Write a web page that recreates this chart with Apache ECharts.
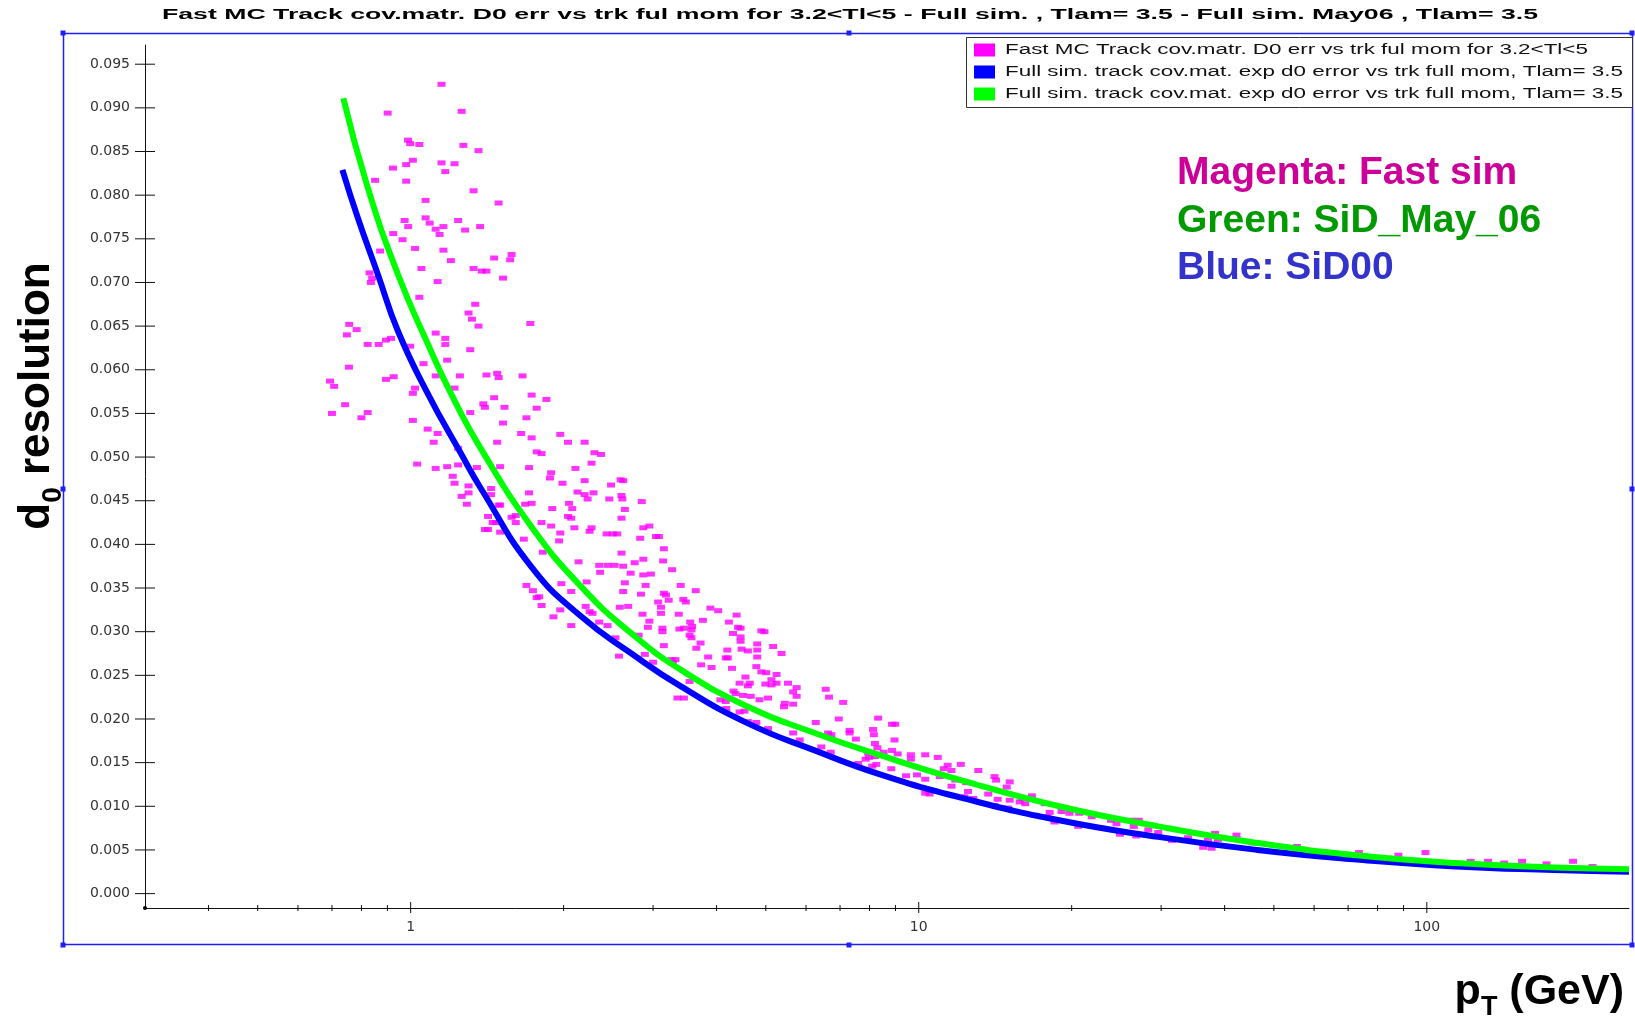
<!DOCTYPE html>
<html>
<head>
<meta charset="utf-8">
<title>d0 resolution vs pT</title>
<script src="https://cdn.jsdelivr.net/npm/echarts@6/dist/echarts.min.js"></script>
<style>
  html, body { margin: 0; padding: 0; background: #fff; }
  #chart { width: 1635px; height: 1019px; }
</style>
</head>
<body>
<div id="chart"></div>
<script>
// axis ticks
var yTicks = [0, 0.005, 0.01, 0.015, 0.02, 0.025, 0.03, 0.035, 0.04, 0.045, 0.05,
              0.055, 0.06, 0.065, 0.07, 0.075, 0.08, 0.085, 0.09, 0.095];
var xMajorTicks = [1, 10, 100];
var xMinorTicks = [0.4, 0.5, 0.6, 0.7, 0.8, 0.9, 2, 3, 4, 5, 6, 7, 8, 9,
                   20, 30, 40, 50, 60, 70, 80, 90];

var titleText = 'Fast MC Track cov.matr. D0 err vs trk ful mom for 3.2<Tl<5 - Full sim. , Tlam= 3.5 - Full sim. May06 , Tlam= 3.5';
var legendNames = [
  'Fast MC Track cov.matr. D0 err vs trk ful mom for 3.2<Tl<5',
  'Full sim. track cov.mat. exp d0 error vs trk full mom, Tlam= 3.5',
  'Full sim. track cov.mat. exp d0 error vs trk full mom, Tlam= 3.5'
];
var legendColors = ['#ff00ff', '#0000ff', '#00ff00'];

// magenta: fast sim  [pT, d0 error]
var fastSim = [
  [1.15,0.0927],[0.901,0.0894],[1.26,0.0896],[0.988,0.0863],[0.998,0.0859],[1.04,0.0858],[1.27,0.0857],[1.36,0.0851],
  [1.01,0.0840],[0.980,0.0835],[0.923,0.0831],[1.15,0.0837],[1.22,0.0836],[1.17,0.0827],[0.851,0.0817],[0.980,0.0816],
  [1.33,0.0805],[1.07,0.0794],[1.49,0.0791],[1.07,0.0774],[1.09,0.0768],[0.973,0.0771],[0.989,0.0764],[1.16,0.0764],
  [1.24,0.0771],[1.37,0.0764],[1.12,0.0761],[1.28,0.0760],[1.14,0.0755],[0.924,0.0756],[0.964,0.0749],[0.871,0.0736],
  [1.02,0.0739],[1.16,0.0737],[1.20,0.0725],[1.46,0.0728],[1.58,0.0732],[1.57,0.0726],[1.05,0.0716],[1.33,0.0716],
  [1.38,0.0713],[1.41,0.0713],[0.830,0.0711],[0.840,0.0705],[0.835,0.0700],[1.52,0.0705],[1.13,0.0701],[1.04,0.0683],
  [1.34,0.0675],[1.30,0.0665],[1.32,0.0658],[1.36,0.0650],[1.72,0.0653],[0.757,0.0652],[0.783,0.0646],[0.749,0.0640],
  [1.12,0.0642],[1.17,0.0636],[1.17,0.0629],[0.915,0.0636],[0.894,0.0634],[0.823,0.0629],[0.865,0.0629],[0.998,0.0627],
  [1.31,0.0623],[0.756,0.0603],[1.06,0.0607],[1.18,0.0611],[0.694,0.0587],[0.707,0.0581],[0.894,0.0589],[0.926,0.0592],
  [1.12,0.0593],[1.25,0.0593],[1.41,0.0594],[1.48,0.0596],[1.49,0.0591],[1.66,0.0593],[1.22,0.0579],[1.02,0.0579],
  [1.01,0.0573],[1.46,0.0568],[1.73,0.0571],[1.85,0.0566],[0.743,0.0560],[1.39,0.0561],[1.40,0.0557],[1.53,0.0557],
  [1.77,0.0556],[0.700,0.0550],[0.823,0.0551],[0.800,0.0545],[1.31,0.0551],[1.01,0.0542],[1.69,0.0545],[1.52,0.0539],
  [1.08,0.0532],[1.13,0.0527],[1.65,0.0527],[1.73,0.0522],[1.11,0.0517],[1.48,0.0517],[1.77,0.0506],[1.81,0.0504],
  [1.24,0.0510],[1.97,0.0526],
  [1.03,0.0492],[1.12,0.0487],[1.18,0.0489],[1.24,0.0491],[1.35,0.0488],[1.21,0.0478],[1.22,0.0470],[1.30,0.0459],
  [1.26,0.0455],[1.30,0.0467],[1.44,0.0464],[1.44,0.0457],[1.29,0.0446],[1.49,0.0445],[1.47,0.0425],[1.42,0.0417],
  [1.50,0.0414],
  [2.04,0.0517],[2.20,0.0517],[2.30,0.0505],[2.37,0.0503],[2.27,0.0493],[1.71,0.0488],[2.11,0.0487],[1.50,0.0489],
  [1.89,0.0482],[1.88,0.0476],[1.99,0.0470],[2.20,0.0473],[2.48,0.0468],[2.59,0.0474],[2.62,0.0473],[1.71,0.0459],
  [2.13,0.0460],[2.20,0.0457],[2.23,0.0452],[2.29,0.0459],[2.46,0.0452],[2.60,0.0456],[2.61,0.0452],[2.85,0.0449],
  [1.50,0.0445],[1.68,0.0446],[1.73,0.0447],[1.90,0.0441],[2.05,0.0447],[2.08,0.0441],[2.64,0.0440],[1.42,0.0432],
  [1.58,0.0431],[1.61,0.0433],[2.04,0.0432],[2.07,0.0430],[2.60,0.0430],[1.45,0.0425],[1.40,0.0417],[1.61,0.0425],
  [1.81,0.0425],[1.89,0.0421],[1.97,0.0413],[1.96,0.0404],[2.27,0.0419],[2.25,0.0415],[2.10,0.0419],[2.43,0.0412],
  [2.50,0.0412],[2.55,0.0412],[2.87,0.0419],[2.95,0.0421],[2.83,0.0407],[3.04,0.0409],[3.08,0.0409],[1.67,0.0406],
  [3.15,0.0395],[1.82,0.0391],[2.60,0.0390],[2.14,0.0380],[2.35,0.0376],[2.44,0.0376],[2.52,0.0376],[2.62,0.0375],
  [2.76,0.0379],[2.87,0.0383],[3.14,0.0381],[3.27,0.0371],[2.36,0.0368],[2.71,0.0367],[2.87,0.0365],[2.97,0.0366],
  [1.98,0.0355],[2.22,0.0357],[2.64,0.0356],[2.90,0.0353],[3.40,0.0353],[1.69,0.0353],[1.74,0.0347],[2.07,0.0346],
  [2.62,0.0346],[2.84,0.0343],[3.15,0.0344],[3.18,0.0342],[3.22,0.0336],[3.64,0.0347],[1.77,0.0339],[1.79,0.0340],
  [3.44,0.0337],[3.48,0.0334],[1.81,0.0330],[2.58,0.0328],[2.68,0.0329],[3.07,0.0334],[3.11,0.0328],[3.89,0.0327],
  [4.03,0.0324],[1.97,0.0325],[2.21,0.0329],[2.25,0.0323],[2.28,0.0321],[1.91,0.0317],[2.86,0.0320],[3.37,0.0320],
  [3.11,0.0321],[4.38,0.0319],[2.35,0.0311],[2.44,0.0307],[2.07,0.0307],[2.95,0.0312],[3.55,0.0311],[3.76,0.0313],
  [4.23,0.0311],[3.13,0.0304],[3.13,0.0300],[2.93,0.0305],[3.38,0.0303],[3.45,0.0304],[3.58,0.0306],[3.57,0.0302],
  [4.41,0.0305],[4.46,0.0304],[4.90,0.0301],[2.53,0.0293],[2.81,0.0296],[3.54,0.0296],[3.57,0.0293],[4.31,0.0298],
  [4.46,0.0294],[4.46,0.0289],[4.97,0.0300],[3.15,0.0284],[3.72,0.0287],[3.65,0.0281],[4.20,0.0279],[4.21,0.0270],
  [4.48,0.0280],[4.61,0.0278],[4.81,0.0286],[4.81,0.0279],[5.17,0.0283],[5.37,0.0275],[2.89,0.0274],[2.57,0.0272],
  [3.00,0.0265],[3.26,0.0268],[3.85,0.0271],[4.17,0.0270],[4.81,0.0271],[3.73,0.0262],[3.91,0.0259],[4.29,0.0258],
  [4.79,0.0260],[4.90,0.0254],[5.01,0.0253],[5.25,0.0251],[3.32,0.0268],[3.28,0.0264],[3.54,0.0243],[4.56,0.0248],
  [4.44,0.0241],[4.61,0.0238],[4.65,0.0241],[4.99,0.0240],[5.13,0.0239],[5.25,0.0241],[5.13,0.0245],[5.53,0.0241],
  [5.75,0.0236],[4.32,0.0232],[4.36,0.0229],[4.51,0.0227],[4.67,0.0226],[4.86,0.0222],[5.05,0.0224],[5.66,0.0231],
  [5.75,0.0226],[6.56,0.0234],[6.66,0.0225],[3.35,0.0224],[3.45,0.0224],[4.07,0.0222],[4.17,0.0220],[5.45,0.0218],
  [5.66,0.0217],[7.10,0.0219],[4.54,0.0209],[4.18,0.0212],[4.44,0.0208],[5.43,0.0214],[4.61,0.0197],[4.79,0.0196],
  [5.66,0.0184],[6.27,0.0196],[6.96,0.0200],[7.31,0.0187],[7.31,0.0184],[8.32,0.0201],[6.63,0.0184],[6.73,0.0182],
  [8.13,0.0188],[5.05,0.0189],[5.83,0.0176],[6.43,0.0168],[6.71,0.0162],[7.52,0.0177],[7.95,0.0161],[8.20,0.0157],
  [7.60,0.0149],
  [8.86,0.0194],[8.99,0.0194],[8.16,0.0182],[8.96,0.0176],[8.20,0.0172],[8.29,0.0167],[8.86,0.0164],[8.53,0.0162],
  [7.86,0.0154],[7.98,0.0156],[9.09,0.0160],[9.65,0.0159],[9.65,0.0154],[10.3,0.0159],[10.9,0.0156],[12.1,0.0148],
  [8.10,0.0146],[8.25,0.0148],[8.83,0.0143],[11.4,0.0147],[11.2,0.0143],[11.6,0.0141],[13.1,0.0141],[9.44,0.0135],
  [9.92,0.0136],[10.3,0.0131],[11.0,0.0134],[11.8,0.0130],[14.1,0.0134],[14.2,0.0130],[15.1,0.0128],[14.9,0.0122],
  [11.6,0.0123],[12.4,0.0127],[10.3,0.0115],[10.5,0.0114],[13.7,0.0114],[12.5,0.0117],[12.3,0.0111],[12.8,0.0109],
  [14.3,0.0108],[15.1,0.0107],[15.8,0.0105],[16.2,0.0103],[16.0,0.0109],[16.7,0.0112],[15.0,0.0098],[14.1,0.0101],
  [17.7,0.0103],[18.1,0.0093],[19.1,0.0094],[19.4,0.0098],[19.8,0.0092],[20.7,0.0092],[17.9,0.0088],[18.5,0.0082],
  [20.6,0.0077],[21.9,0.0088],[23.9,0.0084],[24.5,0.0080],[26.2,0.0084],[27.1,0.0084],[26.5,0.0077],[24.9,0.0068],
  [26.8,0.0066],[28.3,0.0073],[29.6,0.0070],[31.5,0.0061],[36.3,0.0053],[37.7,0.0052],[33.9,0.0064],[38.3,0.0069],
  [42.2,0.0067],[37.1,0.0061],[38.8,0.0062],[45.4,0.0058],[55.5,0.0054],[73.5,0.0047],[87.9,0.0044],[99.4,0.0047],
  [96.2,0.0038],[122,0.0037],[132,0.0037],[142,0.0035],[154,0.0037],[172,0.0034],[194,0.0037],[212,0.0031],
  [76.9,0.0042]
];

// blue: SiD00 full sim
var sid00 = [
  [0.734,0.0829],[0.786,0.0775],[0.861,0.0710],[0.943,0.0645],[1.08,0.0573],[1.256,0.0504],[1.375,0.0464],
  [1.73,0.0374],[2.17,0.0317],[2.72,0.0275],[3.41,0.0237],[4.61,0.0195],[6.24,0.0164],
  [8.45,0.0136],[12.1,0.0110],[18.9,0.0084],[29.6,0.0065],[46.4,0.0050],[72.7,0.0039],[114,0.0031],
  [178,0.0027],[250,0.0025]
];

// green: SiD_May_06 full sim
var sidMay06 = [
  [0.737,0.0911],[0.823,0.0809],[0.943,0.0710],[1.08,0.0630],[1.20,0.0573],[1.38,0.0508],[1.73,0.0420],
  [2.17,0.0351],[2.72,0.0298],[3.41,0.0256],[4.61,0.0214],[6.24,0.0184],[8.45,0.0158],
  [12.1,0.0130],[18.9,0.0100],[29.6,0.0077],[46.4,0.0058],[72.7,0.0044],[114,0.0035],[178,0.0030],
  [250,0.0028]
];

var xMin = 0.3, xMax = 250, yMin = -0.00165, yMax = 0.0972;

// the original plot is stretched sideways, so its texts are too
var measureCtx = document.createElement('canvas').getContext('2d');
function stretchTo(text, font, width) {
  measureCtx.font = font;
  return width / measureCtx.measureText(text).width;
}
var titleScale = stretchTo(titleText, 'bold 14px "Liberation Sans"', 1376);
var legendScale = stretchTo(legendNames[1], '14px "Liberation Sans"', 618);

function tickItem(kind) {
  return function (params, api) {
    var p, up, dn;
    if (kind === 'y') {
      p = api.coord([xMin, api.value(1)]);
      return {
        type: 'line',
        shape: { x1: p[0] - 10, y1: p[1], x2: p[0] + 10, y2: p[1] },
        style: { stroke: '#111', lineWidth: 1 }
      };
    }
    p = api.coord([api.value(0), yMin]);
    up = kind === 'major' ? 6 : 3;
    dn = kind === 'major' ? 5 : 3;
    return {
      type: 'line',
      shape: { x1: p[0], y1: p[1] - up, x2: p[0], y2: p[1] + dn },
      style: { stroke: '#111', lineWidth: 1 }
    };
  };
}

var frameBlue = '#1e1eff';
var handles = [[63, 33], [849, 33], [1632, 33], [63, 489], [1632, 489], [63, 945], [849, 945], [1632, 945]];

var graphics = [
  { type: 'rect', z: 1, shape: { x: 63.5, y: 33.5, width: 1569, height: 911 },
    style: { fill: null, stroke: frameBlue, lineWidth: 1.5 } },
  { type: 'text', x: 850, y: 15, scaleX: titleScale,
    style: { text: titleText, fontFamily: 'Liberation Sans', fontWeight: 'bold', fontSize: 14,
             fill: '#000', align: 'center', verticalAlign: 'middle' } },
  { type: 'rect', z: 10, shape: { x: 966.5, y: 37.5, width: 666, height: 70 },
    style: { fill: '#fff', stroke: '#333', lineWidth: 1 } },
  { type: 'circle', z: 10, shape: { cx: 145, cy: 908, r: 2 }, style: { fill: '#000' } },
  { type: 'text', x: 1177, y: 173, z: 10,
    style: { text: 'Magenta: Fast sim', fontFamily: 'Liberation Sans', fontWeight: 'bold', fontSize: 39,
             fill: '#cc0099', verticalAlign: 'middle' } },
  { type: 'text', x: 1177, y: 221, z: 10,
    style: { text: 'Green: SiD_May_06', fontFamily: 'Liberation Sans', fontWeight: 'bold', fontSize: 39,
             fill: '#009900', verticalAlign: 'middle' } },
  { type: 'text', x: 1177, y: 268, z: 10,
    style: { text: 'Blue: SiD00', fontFamily: 'Liberation Sans', fontWeight: 'bold', fontSize: 39,
             fill: '#3333cc', verticalAlign: 'middle' } },
  { type: 'text', x: 37, y: 396, rotation: Math.PI / 2,
    style: { text: '{a|d}{b|0}{a| resolution}', align: 'center', verticalAlign: 'middle',
             rich: {
               a: { fontFamily: 'Liberation Sans', fontWeight: 'bold', fontSize: 44, lineHeight: 60, fill: '#000' },
               b: { fontFamily: 'Liberation Sans', fontWeight: 'bold', fontSize: 28, lineHeight: 26,
                    verticalAlign: 'bottom', fill: '#000' }
             } } },
  { type: 'text', x: 1624, y: 992,
    style: { text: '{a|p}{b|T}{a| (GeV)}', align: 'right', verticalAlign: 'middle',
             rich: {
               a: { fontFamily: 'Liberation Sans', fontWeight: 'bold', fontSize: 43, lineHeight: 58, fill: '#000' },
               b: { fontFamily: 'Liberation Sans', fontWeight: 'bold', fontSize: 27, lineHeight: 26,
                    verticalAlign: 'bottom', fill: '#000' }
             } } }
];
handles.forEach(function (h) {
  graphics.push({ type: 'rect', z: 2, shape: { x: h[0] - 2.5, y: h[1] - 2.5, width: 5, height: 5 },
                  style: { fill: frameBlue } });
});
legendNames.forEach(function (name, i) {
  var cy = 50 + i * 22;
  graphics.push({ type: 'rect', z: 11, shape: { x: 974, y: cy - 6.5, width: 21, height: 13 },
                  style: { fill: legendColors[i] } });
  graphics.push({ type: 'text', z: 11, x: 1005, y: cy, scaleX: legendScale,
                  style: { text: name, fontFamily: 'Liberation Sans', fontSize: 14, fill: '#111',
                           verticalAlign: 'middle' } });
});

var chart = echarts.init(document.getElementById('chart'));
var option = {
  animation: false,
  backgroundColor: '#fff',
  grid: { left: 145, right: 6, top: 45, bottom: 111, containLabel: false },
  xAxis: {
    type: 'log',
    logBase: 10,
    min: xMin,
    max: xMax,
    axisLine: { onZero: false, lineStyle: { color: '#111', width: 1 } },
    axisTick: { show: false },
    splitLine: { show: false },
    minorTick: { show: false },
    axisLabel: {
      showMinLabel: false,
      showMaxLabel: false,
      margin: 12,
      color: '#333',
      fontFamily: 'DejaVu Sans',
      fontSize: 14
    }
  },
  yAxis: {
    type: 'value',
    min: yMin,
    max: yMax,
    splitNumber: 20,
    axisLine: { show: true, onZero: false, lineStyle: { color: '#111', width: 1 } },
    axisTick: { show: false },
    splitLine: { show: false },
    axisLabel: {
      customValues: yTicks,
      margin: 15,
      color: '#333',
      fontFamily: 'DejaVu Sans',
      fontSize: 14,
      formatter: function (v) { return v.toFixed(3); }
    }
  },
  graphic: graphics,
  series: [
    {
      name: legendNames[0],
      type: 'scatter',
      data: fastSim,
      symbol: 'rect',
      symbolSize: [8, 5],
      itemStyle: { color: '#ff00ff' },
      z: 2
    },
    {
      name: legendNames[1],
      type: 'line',
      data: sid00,
      showSymbol: false,
      smooth: 0.5,
      lineStyle: { color: '#0000ff', width: 6 },
      itemStyle: { color: '#0000ff' },
      z: 3
    },
    {
      name: legendNames[2] + ' ',
      type: 'line',
      data: sidMay06,
      showSymbol: false,
      smooth: 0.5,
      lineStyle: { color: '#00ff00', width: 6 },
      itemStyle: { color: '#00ff00' },
      z: 4
    },
    {
      type: 'custom',
      clip: false,
      silent: true,
      renderItem: tickItem('y'),
      data: yTicks.map(function (v) { return [xMin, v]; }),
      z: 5
    },
    {
      type: 'custom',
      clip: false,
      silent: true,
      renderItem: tickItem('major'),
      data: xMajorTicks.map(function (v) { return [v, yMin]; }),
      z: 5
    },
    {
      type: 'custom',
      clip: false,
      silent: true,
      renderItem: tickItem('minor'),
      data: xMinorTicks.map(function (v) { return [v, yMin]; }),
      z: 5
    }
  ]
};
chart.setOption(option);
</script>
</body>
</html>
